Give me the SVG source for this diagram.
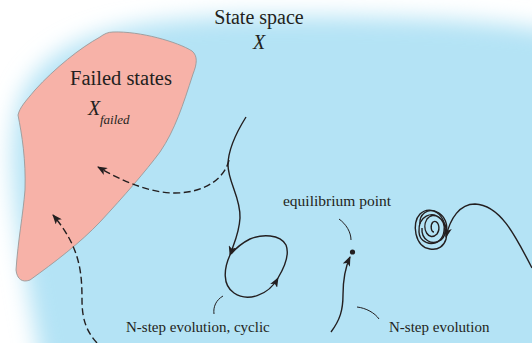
<svg xmlns="http://www.w3.org/2000/svg" width="532" height="343" viewBox="0 0 532 343">
<defs>
<filter id="blur" filterUnits="userSpaceOnUse" x="-100" y="-100" width="800" height="600">
<feGaussianBlur stdDeviation="11"/>
</filter>
<marker id="arr" viewBox="0 0 10 8" refX="9" refY="4" markerWidth="10" markerHeight="8" markerUnits="userSpaceOnUse" orient="auto">
<path d="M0,0 L10,4 L0,8 L2.5,4 Z" fill="#231f20"/>
</marker>
<style>
text{font-family:'Liberation Serif','DejaVu Serif',serif;fill:#231f20}
.i{font-style:italic}
.s{fill:none;stroke:#231f20;stroke-width:1.4}
.d{fill:none;stroke:#231f20;stroke-width:1.4;stroke-dasharray:7 3.5}
.l{fill:none;stroke:#231f20;stroke-width:1}
</style>
</defs>
<rect width="532" height="343" fill="#ffffff"/>
<path d="M44,380 C24,260 0,165 20,100 C48,36 120,18 260,16 C400,16 520,20 570,36 L570,380 Z" fill="#b4e3f5" filter="url(#blur)"/>
<g id="failed">
<path d="M113,32 C140,31 178,42 192,51 C198,56 197,64 193,74 C183,105 175,130 160,152 C145,172 125,195 100,222 C80,243 55,262 30,280 C22,283 17,279 16,270 C18,240 23,215 25,190 C26,160 22,135 18,115 C20,107 25,102 35,90 C55,68 80,48 100,37 C104,34 108,32 113,32 Z" fill="#f7b2a8" stroke="#9a9a9a" stroke-width="0.9"/>
<text font-family="Liberation Serif, DejaVu Serif, serif" x="121" y="85" font-size="20.5" text-anchor="middle">Failed states</text>
<text font-family="Liberation Serif, DejaVu Serif, serif" class="i" x="88" y="115" font-size="20">X</text>
<text font-family="Liberation Serif, DejaVu Serif, serif" class="i" x="100" y="124" font-size="13">failed</text>
</g>
<g id="statespace">
<text font-family="Liberation Serif, DejaVu Serif, serif" x="259" y="24" font-size="20" text-anchor="middle">State space</text>
<text font-family="Liberation Serif, DejaVu Serif, serif" class="i" x="259" y="49" font-size="20" text-anchor="middle">X</text>
</g>
<g id="equilibrium">
<circle cx="352.5" cy="252" r="2.6" fill="#231f20"/>
<text font-family="Liberation Serif, DejaVu Serif, serif" x="337" y="206" font-size="15.5" text-anchor="middle">equilibrium point</text>
</g>
<g id="labels">
<text font-family="Liberation Serif, DejaVu Serif, serif" x="126" y="332" font-size="15">N-step evolution, cyclic</text>
<text font-family="Liberation Serif, DejaVu Serif, serif" x="389" y="332" font-size="15">N-step evolution</text>
</g>
<g id="connectors">
<path class="s" d="M246,117 C236,133 228,150 228,165 C228,182 241,198 240,218 C239,235 233,245 230,255" marker-end="url(#arr)"/>
<path class="s" d="M230,255 C224,268 222,285 234,293 C247,302 268,296 278,278" marker-end="url(#arr)"/>
<path class="s" d="M278,278 C284,268 290,255 286,245 C280,234 262,234 250,239 C242,243 236,248 231,254"/>
<path class="d" d="M229,160 C225,178 205,193 175,193 C150,193 122,181 98,167" marker-end="url(#arr)"/>
<path class="d" d="M97,343 C88,333 82,322 82,300 C82,272 80,247 53,215" marker-end="url(#arr)"/>
<path class="s" d="M331,332 C340,320 343,310 343,295 C343,280 345,268 350,257" marker-end="url(#arr)"/>
<path class="s" d="M532,268 C515,235 500,205 475,204 C460,204 450,218 446,237" marker-end="url(#arr)"/>
<path class="s" d="M446,234 C451,214 430,204 420,214 C411,223 415,247 430,249 C447,252 452,230 441,219 C432,210 418,216 419,232 C420,247 442,248 444,231 C446,218 433,211 427,219 C421,229 429,242 437,234 C441,228 438,219 433,222 C430,225 431,232 434,232"/>
<path class="s" d="M422,228 C421,240 432,246 441,240 C448,234 446,218 436,212 C428,208 419,214 420,224"/>
<path class="l" d="M223,296 C216,300 213,307 214,314"/>
<path class="l" d="M339,219 C346,224 351,232 351,240"/>
<path class="l" d="M357,307 C366,308 375,313 379,319"/>
</g>
</svg>
